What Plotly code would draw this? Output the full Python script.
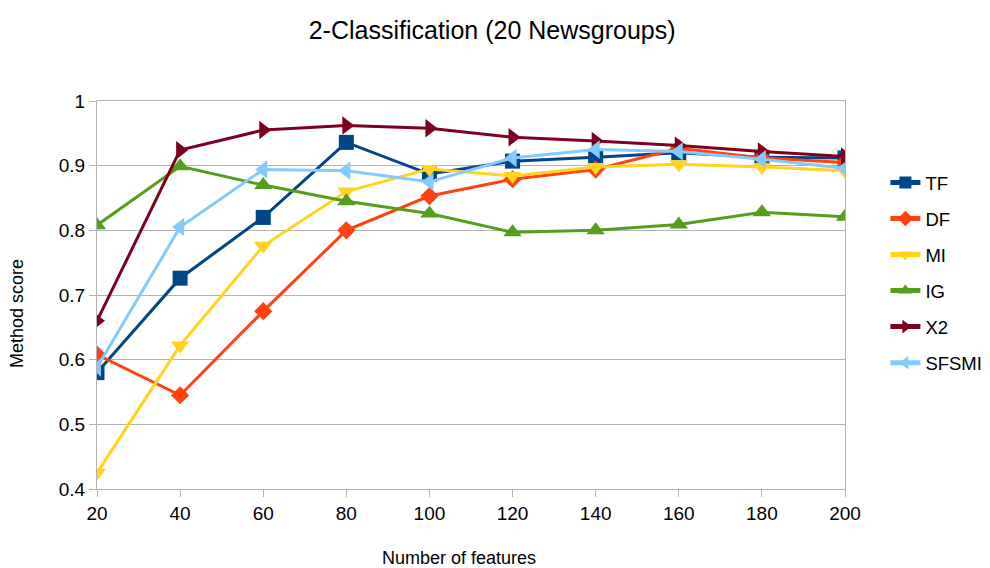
import plotly.graph_objects as go

features = [20, 40, 60, 80, 100, 120, 140, 160, 180, 200]
tf = [0.580, 0.726, 0.820, 0.936, 0.887, 0.907, 0.913, 0.920, 0.913, 0.912]
df = [0.608, 0.545, 0.675, 0.800, 0.853, 0.879, 0.894, 0.927, 0.912, 0.905]
mi = [0.425, 0.622, 0.776, 0.860, 0.895, 0.884, 0.898, 0.902, 0.898, 0.892]
ig = [0.808, 0.899, 0.870, 0.845, 0.826, 0.797, 0.800, 0.809, 0.828, 0.821]
x2 = [0.660, 0.924, 0.955, 0.962, 0.958, 0.944, 0.938, 0.931, 0.922, 0.914]
sfsmi = [0.588, 0.805, 0.894, 0.892, 0.875, 0.912, 0.925, 0.922, 0.910, 0.896]

series = [
    ("TF", tf, "#004586", "square", 15),
    ("DF", df, "#ff420e", "diamond", 14),
    ("MI", mi, "#ffd320", "triangle-down", 16),
    ("IG", ig, "#579d1c", "triangle-up", 16),
    ("X2", x2, "#7e0021", "triangle-right", 16),
    ("SFSMI", sfsmi, "#83caff", "triangle-left", 16),
]

fig = go.Figure()
for name, vals, color, sym, size in series:
    fig.add_trace(go.Scatter(
        x=features, y=vals, name=name, mode="lines+markers",
        line=dict(color=color, width=3),
        marker=dict(symbol=sym, size=size, color=color),
        legendgroup=name,
    ))

font = "Liberation Sans, Arial, sans-serif"
fig.update_layout(
    width=982, height=560,
    margin=dict(l=89, r=145, t=93, b=79, autoexpand=False),
    paper_bgcolor="white", plot_bgcolor="white",
    font=dict(family=font, color="#000000"),
    title=dict(text="2-Classification (20 Newsgroups)", x=0.493, xref="container",
               xanchor="center", y=1 - 22 / 560, yref="container", yanchor="middle",
               font=dict(size=25, family=font)),
    legend=dict(x=1.054, y=0.557, yanchor="middle", xanchor="left",
                font=dict(size=18.5, family=font), tracegroupgap=9,
                itemsizing="constant", itemwidth=30, borderwidth=0,
                bgcolor="rgba(0,0,0,0)"),
    showlegend=True,
    annotations=[
        dict(text="Number of features", xref="paper", yref="paper",
             x=0.484, y=-0.178, xanchor="center", yanchor="middle",
             showarrow=False, font=dict(size=18, family=font)),
        dict(text="Method score", xref="paper", yref="paper",
             x=-0.107, y=0.4536, xanchor="center", yanchor="middle",
             textangle=-90, showarrow=False, font=dict(size=18, family=font)),
    ],
)
fig.update_xaxes(
    range=[20, 200], tickvals=features, ticktext=[str(v) for v in features],
    showgrid=False, showline=True, linecolor="#b3b3b3", linewidth=1, mirror=True,
    ticks="outside", ticklen=7, tickcolor="#b3b3b3",
    tickfont=dict(size=19), zeroline=False, automargin=False,
)
fig.update_yaxes(
    range=[0.4, 1.0], tickvals=[0.4, 0.5, 0.6, 0.7, 0.8, 0.9, 1.0],
    ticktext=["0.4", "0.5", "0.6", "0.7", "0.8", "0.9", "1"],
    showgrid=True, gridcolor="#b3b3b3", gridwidth=1,
    showline=True, linecolor="#b3b3b3", linewidth=1, mirror=True,
    ticks="outside", ticklen=7, tickcolor="#b3b3b3",
    tickfont=dict(size=19), zeroline=False, automargin=False,
)
fig.write_html("out.html")
